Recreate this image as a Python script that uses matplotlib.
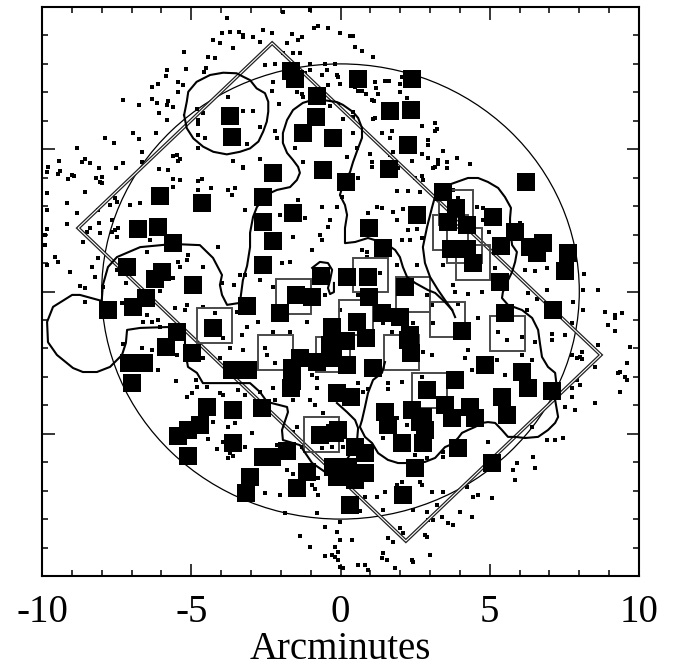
import numpy as np
import matplotlib
matplotlib.use("Agg")
import matplotlib.pyplot as plt
from matplotlib.patches import Rectangle, Circle, Polygon
from matplotlib.ticker import MultipleLocator, FixedLocator

plt.rcParams['font.family'] = ['Liberation Serif', 'DejaVu Serif']
plt.rcParams['axes.unicode_minus'] = False

# ---------------- data (arcminutes) ----------------
x_ticks = [-10, -5, 0, 5, 10]
x_tick_labels = ['-10', '-5', '0', '5', '10']
x_label = 'Arcminutes'

circle_center = (0.0, 0.0)
circle_radius = 8.0

diamond_x = [-2.29, -8.79, 2.19, 8.72]
diamond_y = [8.73, 2.23, -8.77, -2.23]

# filled black squares
squares = [
    (-1.66, 7.75), (-1.52, 7.47), (0.59, 7.47), (2.40, 7.47), (-0.79, 6.87), (1.66, 6.34),
    (2.36, 6.38), (-0.82, 6.13), (-3.70, 6.17), (-3.63, 5.43), (-1.26, 5.57), (-0.25, 5.40),
    (2.26, 5.15), (-2.26, 4.17), (-0.59, 4.27), (1.62, 4.31), (0.18, 3.85), (6.21, 3.85),
    (3.43, 3.50), (3.87, 2.94), (2.56, 2.69), (5.11, 2.62), (-6.05, 3.36), (-4.64, 3.11),
    (-2.60, 3.32), (-1.59, 2.76), (-2.60, 2.44), (0.95, 2.23), (3.60, 2.44), (4.24, 2.34),
    (5.85, 2.09), (-6.78, 2.20), (-6.11, 2.27), (-5.61, 1.70), (-2.26, 1.78), (1.42, 1.53),
    (3.70, 1.49), (4.24, 1.49), (5.38, 1.60), (6.78, 1.70), (6.35, 1.56), (6.58, 1.35),
    (7.62, 1.35), (7.52, 0.72), (4.44, 1.00), (-7.15, 0.86), (-5.98, 0.69), (-6.21, 0.44),
    (-2.60, 0.93), (-4.94, 0.23), (-0.65, 0.54), (0.22, 0.51), (0.92, 0.51), (5.34, 0.33),
    (2.16, 0.16), (-6.52, -0.23), (-6.95, -0.54), (-7.79, -0.65), (-3.13, -0.51), (-2.03, -0.76),
    (-1.49, -0.12), (-0.95, -0.19), (0.95, -0.19), (7.12, -0.65), (5.51, -0.76), (1.39, -0.76),
    (1.99, -0.90), (0.55, -1.07), (4.07, -1.39), (2.33, -1.53), (-5.48, -1.42), (-4.27, -1.28),
    (-0.28, -1.25), (-5.85, -1.95), (-4.97, -2.16), (-7.09, -2.51), (-6.58, -2.51), (-6.98, -3.22),
    (-3.63, -2.76), (-3.10, -2.76), (-0.35, -1.88), (0.18, -1.74), (0.85, -1.63), (2.26, -1.70),
    (2.36, -2.16), (-1.36, -2.34), (-0.79, -2.48), (-0.25, -2.34), (0.22, -2.58), (1.09, -2.69),
    (-1.62, -2.69), (-1.62, -3.15), (-0.12, -3.57), (0.35, -3.71), (4.84, -2.58), (6.08, -2.83),
    (6.28, -3.39), (7.09, -3.50), (3.84, -3.11), (2.90, -3.46), (-4.47, -4.06), (-3.60, -4.17),
    (-2.63, -4.09), (-4.71, -4.69), (-5.44, -5.08), (-5.11, -4.87), (-3.60, -5.33), (-5.11, -5.78),
    (-2.60, -5.82), (-2.29, -5.82), (-1.79, -5.61), (-3.03, -6.52), (-3.17, -7.08), (-1.46, -6.91),
    (-1.12, -6.34), (1.49, -4.24), (2.40, -4.17), (2.76, -4.41), (3.50, -3.99), (3.74, -4.45),
    (4.34, -4.06), (4.51, -4.45), (5.41, -3.71), (5.58, -4.34), (2.83, -4.87), (2.76, -5.33),
    (2.06, -5.33), (3.94, -5.50), (-0.08, -4.87), (0.49, -5.47), (0.82, -5.68), (0.25, -6.17),
    (0.82, -6.38), (0.49, -6.63), (2.50, -6.20), (2.09, -7.15), (5.08, -6.03), (0.32, -7.50),
    (-0.69, -5.04), (-0.18, -4.97), (-0.25, -6.17), (-0.12, -6.52), (1.59, -4.69), (2.66, -4.59),
    (-1.66, -3.39),
]

# open (outline) boxes: centres
box_centers = [
    (-4.22, -1.18), (-1.56, -0.19), (-2.19, -2.14), (-0.25, -2.23), (0.52, -0.93), (0.99, 0.58),
    (2.43, -0.11), (2.03, -2.13), (3.60, -0.97), (2.98, -3.48), (-0.65, -5.01), (4.14, 1.60),
    (4.44, 1.02), (5.61, -1.46), (3.87, 2.95), (3.70, 2.09),
]
box_w, box_h = 1.17, 1.23

# contour lines
contour_circle = [
    (-5.24, 6.20), (-5.15, 6.67), (-5.10, 7.02), (-4.82, 7.37), (-4.37, 7.61), (-3.93, 7.69),
    (-3.48, 7.67), (-3.26, 7.55), (-3.03, 7.43), (-2.81, 7.14), (-2.53, 6.97), (-2.42, 6.67),
    (-2.42, 6.32), (-2.47, 5.97), (-2.59, 5.62), (-2.75, 5.27), (-3.03, 5.03), (-3.37, 4.91),
    (-3.81, 4.82), (-4.26, 4.91), (-4.60, 5.09), (-4.93, 5.38), (-5.15, 5.74), (-5.24, 6.20),
]

contour_main = [
    (-0.12, -3.92), (0.22, -4.24), (0.49, -4.52), (0.59, -4.80), (0.55, -5.29), (0.25, -5.85),
    (-0.02, -6.17), (-0.25, -6.27), (-0.52, -6.34), (-0.95, -6.03), (-1.36, -5.40), (-1.93, -5.22),
    (-1.96, -4.87), (-1.76, -4.24), (-1.79, -4.06), (-2.46, -3.88), (-2.70, -3.53), (-3.03, -3.22),
    (-3.60, -3.22), (-4.61, -3.22), (-4.81, -2.86), (-5.11, -2.65), (-5.21, -2.06), (-5.21, -1.46),
    (-5.38, -1.28), (-5.81, -1.25), (-6.71, -1.28), (-7.15, -1.35), (-7.19, -1.81), (-7.32, -2.23),
    (-7.72, -2.65), (-8.16, -2.83), (-8.63, -2.83), (-8.96, -2.69), (-9.50, -2.23), (-9.80, -1.78),
    (-9.83, -1.07), (-9.63, -0.54), (-8.99, -0.12), (-8.73, -0.12), (-8.00, -0.33), (-7.96, 0.23),
    (-7.79, 0.86), (-7.49, 1.21), (-6.71, 1.56), (-5.61, 1.67), (-4.71, 1.63), (-4.27, 1.18),
    (-3.97, 0.58), (-4.04, 0.23), (-3.97, -0.12), (-3.80, -0.47), (-3.37, -0.40), (-3.27, 0.40),
    (-3.13, 0.90), (-3.03, 1.56), (-3.03, 2.06), (-2.93, 2.62), (-2.80, 2.97), (-2.60, 3.22),
    (-2.36, 3.46), (-2.13, 3.57), (-1.69, 3.67), (-1.46, 3.92), (-1.36, 4.17), (-1.42, 4.38),
    (-1.59, 4.62), (-1.79, 4.87), (-1.93, 5.22), (-1.93, 5.57), (-1.79, 6.03), (-1.59, 6.38),
    (-1.26, 6.63), (-0.95, 6.73), (-0.59, 6.73), (-0.12, 6.66), (0.08, 6.56), (0.42, 6.31),
    (0.59, 6.10), (0.72, 5.75), (0.72, 5.40), (0.59, 5.04), (0.42, 4.55), (0.32, 4.20),
    (0.08, 3.74), (-0.02, 3.39), (0.15, 3.04), (0.22, 2.69), (0.15, 2.23), (0.15, 1.70),
    (0.49, 1.74), (0.92, 1.88), (1.49, 1.70), (1.83, 1.46), (1.99, 1.21), (2.09, 0.86),
    (2.23, 0.51), (2.50, 0.30), (2.93, 0.05), (3.17, -0.05), (3.50, -0.37), (3.74, -0.65),
]

contour_right = [
    (3.84, -0.90), (3.74, -0.65), (3.50, -0.30), (3.27, 0.05), (3.00, 0.51), (2.83, 1.00),
    (2.76, 1.56), (2.90, 2.27), (3.07, 2.97), (3.20, 3.46), (3.60, 3.74), (4.27, 3.99),
    (4.61, 3.99), (4.94, 3.85), (5.28, 3.64), (5.51, 3.32), (5.71, 2.94), (5.68, 2.58),
    (5.68, 2.16), (5.75, 1.63), (5.91, 1.39), (5.85, 1.04), (5.75, 0.69), (5.58, 0.33),
    (5.44, -0.02), (5.41, -0.23), (5.61, -0.47), (6.08, -0.65), (6.42, -0.93), (6.62, -1.35),
    (6.68, -1.81), (6.75, -2.30), (6.95, -2.65), (7.19, -2.86), (7.25, -3.39), (7.19, -3.81),
    (7.25, -4.17), (7.29, -4.41), (7.19, -4.62), (6.95, -4.87), (6.62, -5.11), (6.18, -5.15),
    (5.85, -5.11), (5.61, -5.11), (5.41, -4.87), (5.18, -4.62), (4.94, -4.59), (4.74, -4.62),
    (4.51, -4.76), (4.27, -4.87), (4.07, -4.97), (3.94, -5.15), (3.74, -5.36), (3.50, -5.47),
    (3.17, -5.85), (2.83, -5.99), (2.40, -6.03), (1.93, -6.03), (1.59, -5.92), (1.26, -5.68),
    (1.06, -5.33), (0.82, -5.11), (0.65, -4.76), (0.72, -4.52), (0.82, -4.06), (0.92, -3.57),
    (1.09, -3.11), (1.39, -2.86), (1.49, -2.48),
]

contour_small = [
    (-0.95, 0.83), (-0.69, 1.04), (-0.42, 1.00), (-0.28, 0.76), (-0.35, 0.40), (-0.42, 0.12),
    (-0.35, -0.09), (-0.22, -0.02), (-0.22, 0.30),
]

# small dots (individual sources)
dots = [
    (-3.81, 9.60), (-3.98, 9.08), (-3.70, 9.11), (-3.39, 9.11), (-3.26, 8.96), (-4.28, 8.84), (-4.04, 8.72),
    (-3.59, 8.55), (-5.23, 8.41), (-4.43, 8.23), (-4.20, 8.20), (-4.51, 7.87), (-4.57, 7.73), (-5.18, 7.82),
    (-5.82, 7.79), (-5.85, 7.57), (-5.43, 7.35), (-5.29, 7.26), (-6.32, 7.19), (-6.10, 7.28), (-5.45, 7.00),
    (-7.28, 6.73), (-6.74, 6.56), (-6.32, 6.76), (-6.16, 6.62), (-5.77, 6.70), (-5.82, 6.56), (-5.60, 6.50),
    (-6.07, 6.26), (-5.82, 6.03), (-4.82, 6.41), (-4.62, 6.26), (-4.76, 6.03), (-4.76, 5.88), (-4.76, 5.50),
    (-4.54, 5.41), (-6.94, 5.56), (-6.18, 5.56), (-7.89, 5.39), (-7.59, 5.23), (-6.74, 5.35), (-8.82, 5.05),
    (-6.66, 4.91), (-9.42, 4.59), (-8.56, 4.66), (-8.67, 4.56), (-8.39, 4.51), (-7.28, 4.51), (-6.66, 4.56),
    (-5.62, 4.77), (-5.49, 4.80), (-5.38, 4.66), (-5.43, 4.59), (-9.79, 4.39), (-9.82, 4.19), (-9.40, 4.24),
    (-9.45, 4.12), (-8.08, 4.33), (-7.52, 4.33), (-9.00, 4.09), (-8.92, 4.07), (-9.12, 3.95), (-8.19, 3.98),
    (-8.00, 4.04), (-8.06, 3.86), (-6.07, 4.31), (-5.77, 4.27), (-5.60, 3.95), (-5.38, 3.92), (-4.76, 3.88),
    (-4.65, 3.95), (-4.76, 3.57), (-4.35, 3.63), (-8.56, 3.49), (-9.84, 3.45), (-7.55, 3.30), (-5.60, 3.68),
    (-3.76, 3.57), (-3.53, 3.65), (-3.64, 3.39), (-3.26, 4.39), (-3.61, 4.59), (-3.78, 6.85), (-4.76, 5.03),
    (-1.92, 9.81), (-1.02, 9.89), (-0.74, 9.34), (-0.89, 9.25), (-0.41, 9.27), (-2.59, 9.19), (-2.30, 9.08),
    (-2.92, 8.96), (-2.70, 8.78), (-3.26, 9.02), (-1.63, 9.04), (-1.28, 8.96), (-1.41, 8.84), (-0.02, 9.08),
    (0.32, 8.99), (0.43, 8.99), (-1.80, 8.72), (0.49, 8.60), (0.71, 8.45), (1.10, 8.25), (-1.92, 8.37),
    (-1.58, 8.37), (-1.36, 8.37), (-2.53, 7.96), (-2.19, 7.99), (-1.02, 7.99), (-0.52, 7.99), (-0.18, 7.99),
    (-1.02, 7.79), (-1.19, 7.67), (-0.46, 7.79), (-0.63, 7.61), (-0.13, 7.61), (-2.25, 7.35), (-0.41, 7.26),
    (-0.02, 7.28), (0.49, 7.20), (1.16, 7.35), (1.19, 7.16), (1.49, 7.40), (1.63, 7.40), (1.99, 7.28),
    (-2.30, 7.05), (-1.47, 7.00), (-1.30, 6.93), (-1.25, 6.85), (0.60, 7.05), (0.85, 6.93), (1.27, 6.93),
    (1.13, 6.70), (1.99, 7.02), (2.22, 6.79), (-0.35, 6.53), (-0.07, 6.58), (-2.05, 6.58), (-3.26, 6.34),
    (-2.92, 6.34), (0.09, 6.06), (0.41, 6.14), (2.72, 5.83), (3.17, 5.91), (-2.70, 5.79), (-2.19, 5.64),
    (1.10, 6.06), (1.38, 5.56), (1.72, 5.64), (3.17, 5.64), (-2.14, 5.39), (0.43, 5.56), (-3.14, 5.17),
    (-1.52, 5.03), (0.56, 5.05), (1.66, 5.39), (2.94, 5.15), (3.44, 4.94), (0.99, 4.82), (1.66, 4.80),
    (2.72, 4.82), (2.94, 4.68), (-3.26, 4.33), (-2.70, 4.66), (-1.25, 4.56), (0.21, 4.74), (1.05, 4.56),
    (1.05, 4.39), (2.39, 4.59), (1.94, 4.33), (3.28, 4.47), (0.60, 3.98), (2.50, 3.98), (2.72, 4.07),
    (3.11, 4.33), (1.90, 3.53), (2.66, 3.51), (2.27, 3.53), (0.04, 3.33),
    (3.22, 5.71), (3.26, 4.62), (3.56, 4.54), (3.91, 4.70), (3.56, 4.35), (4.34, 4.47), (3.78, 3.57), (3.95, 3.28),
    (-9.17, 3.10), (-9.84, 2.86), (-8.84, 2.75), (-8.11, 2.86), (-7.50, 3.16), (-7.05, 3.04), (-6.72, 3.10),
    (-7.66, 2.51), (-9.17, 2.36), (-9.84, 2.20), (-8.39, 2.22), (-8.08, 2.40), (-8.50, 2.10), (-7.44, 2.22),
    (-7.66, 2.10), (-8.62, 1.75), (-7.48, 1.93), (-9.90, 1.99), (-9.90, 1.63), (-6.38, 1.81), (-6.49, 1.40),
    (-9.56, 1.22), (-9.84, 0.93), (-9.45, 1.05), (-9.06, 0.67), (-8.33, 0.87), (-8.11, 1.17), (-8.22, 0.52),
    (-8.73, 0.20), (-8.56, 0.11), (-7.50, 0.76), (-7.19, 0.29), (-6.05, 0.02), (-5.60, 0.46), (-5.38, 0.87),
    (-5.15, 1.11), (-4.60, 0.87), (-5.10, 1.28), (-5.43, 1.05), (-6.49, -0.83), (-6.61, -1.06), (-6.10, -1.00),
    (-6.32, -1.06), (-5.54, -0.59), (-5.15, -0.47), (-4.60, -0.53), (-5.21, -0.65), (-6.05, -1.24), (-7.33, -0.41),
    (-7.28, -1.86), (-6.66, -2.00), (-6.32, -2.06), (-5.49, -2.23), (-4.60, -2.33), (-4.04, -2.35), (-4.84, -3.11),
    (-5.51, -3.15), (-6.10, -2.76), (-3.48, -0.71), (-4.20, -0.77), (-3.70, -2.00), (-3.95, -1.65), (-4.09, 1.57),
    (-3.37, 0.58), (-3.57, 0.23), (-3.98, 0.29),
    (4.56, 2.98), (4.78, 2.92), (6.18, 0.76), (6.52, 0.72), (6.91, 0.84), (5.18, 0.84), (8.17, 0.60),
    (8.13, 0.05), (8.64, 0.05), (7.80, -0.36), (8.13, -0.65), (8.86, -0.73), (9.20, -0.83), (9.42, -0.77),
    (8.97, -1.18), (9.20, -1.39), (7.75, -1.12), (7.08, -1.50), (7.08, -1.70), (6.52, -1.76), (8.08, -2.12),
    (8.62, -1.88), (7.91, -2.35), (8.08, -2.37), (8.53, -2.64), (9.36, -2.82), (9.59, -2.52), (9.53, -2.99),
    (7.91, -3.11), (7.75, -3.40), (3.84, -0.01), (4.28, -0.10), (4.73, -0.01), (3.78, 0.23), (3.44, 0.93),
    (3.95, -0.45), (4.62, -0.94), (5.29, -1.41), (5.57, -1.70), (6.07, -1.59), (4.28, -2.06), (4.17, -2.35),
    (5.23, -2.41), (6.07, -2.23), (6.41, -2.41), (4.40, -2.76), (5.51, -2.93), (6.24, -0.65),
    (-5.15, -3.70), (-4.98, -3.58), (-4.82, -3.35), (-4.48, -3.35), (-4.04, -3.58), (-3.93, -3.64), (-3.42, -3.46),
    (-4.26, -4.58), (-3.76, -4.75), (-3.53, -4.63), (-4.43, -5.18), (-4.15, -5.54), (-3.93, -5.28), (-3.70, -5.69),
    (-3.76, -5.86), (-3.59, -5.77),
    (-2.70, -3.52), (-2.25, -3.40), (-0.80, -3.40), (0.76, -3.52), (0.93, -3.43), (1.60, -3.43), (-3.20, -3.64),
    (-2.19, -3.81), (-1.58, -3.81), (-1.02, -3.81), (-0.85, -3.99), (-0.60, -4.28), (-2.97, -4.98), (-1.47, -4.75),
    (-3.20, -5.46), (-2.14, -5.40), (-1.58, -4.93), (-1.30, -5.46), (-0.63, -5.51), (-0.29, -5.46), (0.09, -5.46),
    (1.88, -4.46), (1.83, -4.87), (2.22, -4.69), (1.43, -5.16), (2.50, -5.75), (2.89, -5.86), (3.44, -5.63),
    (3.44, -5.81), (-1.80, -6.27), (-1.58, -6.43), (-0.74, -6.57), (-0.96, -6.80), (-0.85, -6.94), (-2.53, -7.09),
    (-2.03, -7.15), (-0.74, -7.15), (0.82, -7.21), (1.21, -7.21), (1.49, -7.04), (1.88, -6.80), (1.43, -7.68),
    (0.65, -7.72), (-0.80, -7.80), (-1.86, -7.78), (2.05, -6.69), (2.66, -6.69), (2.72, -6.80), (3.06, -7.04),
    (3.44, -7.04), (2.44, -7.68), (2.89, -7.74), (3.22, -7.50), (2.94, -8.03), (-0.02, -8.09), (-0.52, -8.27),
    (-0.13, -8.44), (-0.02, -8.73), (-1.36, -8.58), (-1.02, -8.97), (-0.18, -8.97), (-0.07, -9.15), (-0.18, -9.32),
    (-0.52, -9.29), (-0.29, -9.26), (-0.07, -9.44), (-0.02, -9.67), (0.09, -9.71), (0.60, -9.61), (0.82, -9.61),
    (0.93, -9.79), (1.43, -9.20), (1.38, -9.38), (1.55, -9.44), (1.60, -8.68), (1.77, -8.79), (1.99, -8.32),
    (2.10, -8.50), (2.44, -9.50), (3.00, -9.26), (2.89, -8.62),
    (0.38, -8.73), (1.83, -9.73), (2.39, -9.44), (2.83, -8.56), (3.11, -8.03), (3.61, -8.15), (3.78, -8.21),
    (3.39, -7.92), (4.00, -7.74), (4.40, -7.92), (4.45, -7.21), (4.62, -7.15), (5.07, -7.27), (4.23, -6.86),
    (5.85, -6.63), (5.79, -6.27), (6.52, -6.21), (6.46, -5.81), (5.90, -6.04), (7.19, -5.22), (7.46, -5.16),
    (6.91, -5.22), (7.52, -4.05), (7.86, -4.17), (7.75, -3.70), (8.02, -3.29), (8.53, -3.93), (9.36, -3.52),
    (9.31, -2.88), (9.59, -3.11), (9.70, -1.94), (8.02, -2.29), (7.52, -1.53), (7.75, -2.23), (6.41, -4.75),
    (4.95, -5.28),
    (-0.07, 7.55), (2.05, 7.55), (0.71, 7.06), (1.05, 6.73), (0.43, 6.32), (1.16, 6.09), (2.94, 5.33),
    (1.77, 4.91), (3.17, 4.39), (2.77, 3.92), (1.21, 2.98), (1.38, 2.92), (0.93, 2.75), (1.77, 2.80),
    (2.10, 2.89), (1.88, 2.51), (2.27, 2.16), (2.55, 2.19), (2.05, 1.81), (2.33, 1.81), (0.71, 1.46),
    (0.88, 1.40), (2.55, 0.93), (4.97, 2.10), (4.78, 2.51), (6.01, 2.42), (6.07, 2.10), (6.29, -0.06),
    (6.57, -0.27), (6.91, 0.05), (9.20, -0.94),
    (-8.00, 3.80), (-8.06, 2.05), (-7.55, 2.16), (-7.72, 3.04), (-8.56, -0.36), (-7.95, 0.17),
    (-1.41, 3.22), (-0.63, 2.98), (-0.13, 2.98), (-3.20, 2.86), (-2.03, 2.69), (-1.19, 2.57), (-0.35, 2.51),
    (-0.69, 1.99), (-1.58, 1.93), (-0.41, 2.28), (-0.96, 1.46), (-0.63, 1.81), (-1.69, 1.05), (-1.97, 0.99),
    (-2.70, 0.40), (-2.25, 0.17), (-3.20, 0.58), (2.72, 1.87), (0.88, 1.22), (1.88, 0.93), (1.32, 0.64),
    (0.60, -0.12), (-0.52, -0.12), (-0.02, -0.65), (-1.13, -1.06), (-0.52, -1.18), (-1.69, -1.41), (-2.25, -1.41),
    (-2.75, -1.06), (-3.14, -1.24), (-3.31, -1.53), (-3.26, -2.06), (-2.53, -2.00), (-2.47, -2.23), (-2.19, -2.52),
    (3.11, -1.12), (2.44, -1.12), (2.89, -0.12), (3.06, -0.47), (1.72, -1.41), (2.77, -2.12), (3.06, -2.23),
    (1.43, -1.12), (2.72, -2.99), (2.05, -3.17), (1.60, -3.23), (-0.80, -3.05), (-0.96, -2.93), (0.60, -3.23),
]

# ---------------- plotting ----------------
fig = plt.figure(figsize=(6.75, 6.72), dpi=100)
ax = fig.add_axes([42 / 675, 96 / 672, 597 / 675, 569 / 672])
ax.set_xlim(-10, 10)
ax.set_ylim(-10, 10)

d = np.array(dots)
ax.plot(d[:, 0], d[:, 1], 's', ms=2.3, mew=0, color='black', zorder=2)

ax.add_patch(Circle(circle_center, circle_radius, fill=False, ec='black', lw=0.9, zorder=3))

ax.add_patch(Polygon(list(zip(diamond_x, diamond_y)), closed=True, fill=False,
                     ec='#222222', lw=2.6, joinstyle='miter', zorder=3))
ax.add_patch(Polygon(list(zip(diamond_x, diamond_y)), closed=True, fill=False,
                     ec='white', lw=0.8, joinstyle='miter', zorder=3.1))

for cx, cy in box_centers:
    ax.add_patch(Rectangle((cx - box_w / 2, cy - box_h / 2), box_w, box_h, fill=False,
                           ec='#4a4a4a', lw=1.4, zorder=4))

for c in (contour_circle, contour_main, contour_right, contour_small):
    a = np.array(c)
    ax.plot(a[:, 0], a[:, 1], color='black', lw=1.5, zorder=5, solid_joinstyle='round')

s = np.array(squares)
ax.plot(s[:, 0], s[:, 1], 's', ms=13, mew=0, color='black', zorder=6)

ax.xaxis.set_major_locator(FixedLocator(x_ticks))
ax.set_xticklabels(x_tick_labels)
ax.yaxis.set_major_locator(FixedLocator(x_ticks))
ax.xaxis.set_minor_locator(MultipleLocator(1))
ax.yaxis.set_minor_locator(MultipleLocator(1))
ax.tick_params(which='both', direction='in', top=True, right=True, width=1.1, color='black')
ax.tick_params(which='major', length=9)
ax.tick_params(which='minor', length=4.5)
ax.tick_params(axis='y', labelleft=False)
ax.tick_params(axis='x', labelsize=28, pad=13)
for sp in ax.spines.values():
    sp.set_linewidth(1.5)
ax.set_xlabel(x_label, fontsize=28, labelpad=0)

fig.savefig('out.png', dpi=100)
